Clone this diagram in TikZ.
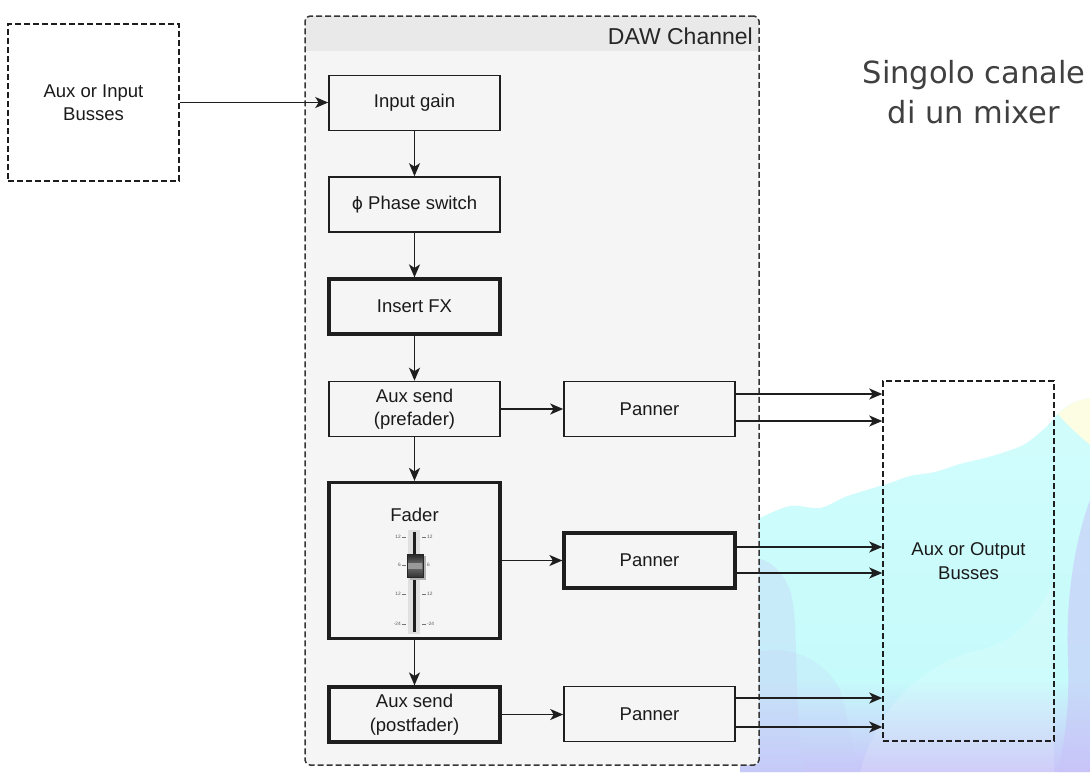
\documentclass[tikz,border=0pt]{standalone}
\usepackage{fontspec}
\setmainfont{Liberation Sans}
\newfontfamily\dejavu{DejaVu Sans}
\usetikzlibrary{arrows.meta,calc}
\definecolor{lc}{HTML}{1E1E1E}
\definecolor{tc}{HTML}{1A1A1A}
\definecolor{bodyc}{HTML}{F5F5F5}
\definecolor{headc}{HTML}{E9E9E9}
\definecolor{titlec}{HTML}{404040}
\definecolor{cyanA}{HTML}{D2FCFC}
\definecolor{cyanB}{HTML}{C6FBFB}
\definecolor{lavA}{HTML}{C8C4F8}
\definecolor{lavB}{HTML}{C6D0F8}
\definecolor{paleY}{HTML}{FCFDE2}
\newcommand\boxfont{\fontsize{18.5}{23.5}\selectfont}
\newcommand\tinyfont{\fontsize{4.8}{5}\selectfont}
\begin{document}
\begin{tikzpicture}[x=1pt,y=-1pt,
  box/.style={draw=lc, line width=1.6pt, minimum width=171pt, minimum height=55pt,
    inner sep=0pt, align=center, font=\boxfont, text=tc},
  tbox/.style={box, line width=3.2pt},
  busbox/.style={draw=lc, line width=1.5pt, dash pattern=on 6pt off 3pt,
    inner sep=0pt, align=center, font=\boxfont, text=tc},
  arr/.style={line width=1.6pt, draw=lc, -{Stealth[length=13pt,width=11pt,inset=3.5pt]}},
  ticklbl/.style={font=\tinyfont, text=black!65, inner sep=0pt},
  tickdash/.style={draw=black!55, line width=0.5pt}
]
\useasboundingbox (0,0) rectangle (1090,772);
\fill[white] (0,0) rectangle (1090,772);

% decorative background, bottom right
\path[save path=\cloudpath]
  (740,772) -- (740,524) -- plot[smooth, tension=0.55] coordinates {
   (760,518) (790,506) (820,508) (845,497) (870,489) (890,483) (910,476)
   (935,472) (960,464) (985,458) (1005,452) (1025,444) (1045,428)
   (1060,412) (1075,402) (1090,398)} -- (1090,772) -- cycle;
\begin{scope}
  \clip[use path=\cloudpath];
  \shade[top color=cyanA, bottom color=cyanB] (740,396) rectangle (1090,680.5);
  \shade[top color=cyanB, bottom color=lavA] (740,680) rectangle (1090,772);
  \fill[lavB, opacity=0.35] (740,772) -- (740,560) .. controls (760,552) and (780,565) .. (790,590)
     .. controls (800,620) and (792,700) .. (805,772) -- cycle;
  \fill[lavB, opacity=0.25] (740,772) -- (740,660) .. controls (770,640) and (820,650) .. (840,690)
     .. controls (850,720) and (850,750) .. (860,772) -- cycle;
  \fill[lavA, opacity=0.55] (1090,500) .. controls (1075,540) and (1065,600) .. (1068,660)
     .. controls (1070,720) and (1062,750) .. (1058,772) -- (1090,772) -- cycle;
  \fill[white, opacity=0.15] (860,772) .. controls (880,700) and (930,660) .. (980,650)
     .. controls (1020,640) and (1040,610) .. (1054,580) -- (1054,772) -- cycle;
  \fill[paleY] (1058,414) .. controls (1070,403) and (1082,398) .. (1090,398)
     -- (1090,445) .. controls (1080,436) and (1068,426) .. cycle;
\end{scope}

% DAW channel container
\begin{scope}
  \clip[rounded corners=5pt] (305,16) rectangle (759,765);
  \fill[bodyc] (305,16) rectangle (759,765);
  \fill[headc] (305,16) rectangle (759,51);
\end{scope}
\node[draw=lc!90, line width=1.5pt, dash pattern=on 6pt off 3pt, rounded corners=5pt,
  minimum width=454pt, minimum height=749pt, inner sep=0pt] (daw) at (532,390.5) {};
\node[anchor=base east, font=\fontsize{23}{27}\selectfont, text=black!85, inner sep=0pt]
  (dawlbl) at (753,44) {DAW Channel};

% title
\node[anchor=base, font=\dejavu\fontsize{30.5}{40}\selectfont, text=titlec, inner sep=0pt]
  (t1) at (974,83.5) {Singolo canale};
\node[anchor=base, font=\dejavu\fontsize{30.5}{40}\selectfont, text=titlec, inner sep=0pt]
  (t2) at (974,123.5) {di un mixer};

% busses
\node[busbox, minimum width=171pt, minimum height=157pt] (inb) at (93.5,102.5) {Aux or Input\\Busses};
\node[busbox, minimum width=171pt, minimum height=360pt] (outb) at (968.5,561) {Aux or Output\\Busses};

% channel blocks
\node[box] (ig) at (414.5,103) {Input gain};
\node[box] (ph) at (414.5,204.5) {{\dejavu\fontsize{17}{20}\selectfont ϕ} Phase switch};
\node[tbox] (fx) at (414.5,306.5) {Insert FX};
\node[box] (as1) at (414.5,409) {Aux send\\(prefader)};
\node[tbox, minimum height=156pt] (fad) at (414.5,560.5) {};
\node[font=\boxfont, text=tc, inner sep=0pt] (fadlbl) at (414.5,515) {Fader};
\node[tbox] (as2) at (414.5,714.5) {Aux send\\(postfader)};
\node[box] (p1) at (649.5,409) {Panner};
\node[tbox] (p2) at (649.5,560.5) {Panner};
\node[box] (p3) at (649.5,714) {Panner};

% fader graphic
\fill[black!12] (408,530) rectangle (420,634);
\draw[line width=3pt, draw=black!88] (414,532) -- (414,632);
\foreach \yy/\lab in {537/12, 565/6, 594/12, 624/-24}{
  \draw[tickdash] (402,\yy) -- (406,\yy);
  \draw[tickdash] (422,\yy) -- (426,\yy);
  \node[ticklbl, anchor=east] at (401,\yy) {\lab};
  \node[ticklbl, anchor=west] at (427,\yy) {\lab};
}
\fill[black!30] (410,556) rectangle (426,580);
\shade[top color=black!85, bottom color=black!80, middle color=black!55] (407,554) rectangle (423,577);
\fill[black!40] (408,563) rectangle (422,569);
\draw[black!85, line width=0.6pt] (407,554) rectangle (423,577);

% connectors
\draw[arr] (inb.east) -- (inb.east -| ig.west);
\draw[arr] (ig) -- (ph);
\draw[arr] (ph) -- (fx);
\draw[arr] (fx) -- (as1);
\draw[arr] (as1) -- (fad);
\draw[arr] (fad) -- (as2);
\draw[arr] (as1) -- (p1);
\draw[arr] (fad) -- (p2);
\draw[arr] (as2.east) -- (as2.east -| p3.west);

\draw[arr] ([yshift=15pt]p1.east) -- ([yshift=15pt]p1.east -| outb.west);
\draw[arr] ([yshift=-12pt]p1.east) -- ([yshift=-12pt]p1.east -| outb.west);
\draw[arr] ([yshift=13.5pt]p2.east) -- ([yshift=13.5pt]p2.east -| outb.west);
\draw[arr] ([yshift=-12.5pt]p2.east) -- ([yshift=-12.5pt]p2.east -| outb.west);
\draw[arr] ([yshift=16pt]p3.east) -- ([yshift=16pt]p3.east -| outb.west);
\draw[arr] ([yshift=-13pt]p3.east) -- ([yshift=-13pt]p3.east -| outb.west);
\end{tikzpicture}
\end{document}
